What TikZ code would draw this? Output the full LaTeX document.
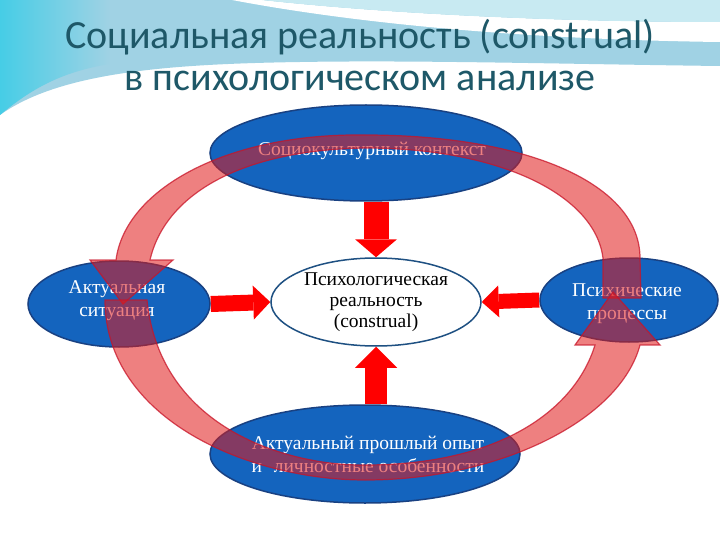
\documentclass[tikz,border=0pt]{standalone}
\usepackage{fontspec}
\setmainfont{Liberation Serif}
\newfontfamily\titlefont{Carlito}
\usetikzlibrary{shapes.geometric,arrows.meta}
\pgfdeclarelayer{bg}
\pgfsetlayers{bg,main}
\definecolor{ringred}{RGB}{225,25,25}
\definecolor{ringedge}{RGB}{200,20,40}
\definecolor{ellblue}{RGB}{20,100,190}
\definecolor{elledge}{RGB}{25,65,130}
\definecolor{centeredge}{RGB}{30,80,130}
\definecolor{titlecol}{RGB}{30,88,104}
\definecolor{skyA}{RGB}{160,210,228}
\definecolor{skyB}{RGB}{70,205,230}
\definecolor{skyC}{RGB}{200,234,242}
\begin{document}
\begin{tikzpicture}[x=1pt,y=-1pt,
  blueell/.style={ellipse, draw=elledge, line width=1.5pt, fill=ellblue, text=white,
    inner sep=0pt, align=center},
  whiteell/.style={ellipse, draw=centeredge, line width=1.5pt, fill=white, text=black,
    inner sep=0pt, align=center, font=\fontsize{19.5}{21}\selectfont},
  redarrow/.style={draw=red, line cap=butt},
  ringarrow/.style={fill=ringred, fill opacity=0.55, draw=ringedge, draw opacity=0.75, line width=1.2pt},
  ltext/.style={text=white, font=\fontsize{19.5}{23}\selectfont, align=center, inner sep=0pt},
  titletext/.style={text=titlecol, font=\titlefont\fontsize{40}{44}\selectfont, inner sep=0pt}]
\useasboundingbox (0,0) rectangle (720,540);
\begin{pgfonlayer}{bg}
\fill[white] (0,0) rectangle (720,540);
% top decoration
\fill[skyA] (0,0) -- (720,0) -- (720,66) .. controls (560,64) and (420,60) .. (300,62)
  .. controls (170,64) and (60,72) .. (0,115) -- cycle;
\shade[left color=skyB, right color=skyA] (0,0) -- (110,0) -- (110,64) .. controls (60,72) and (30,90) .. (0,115) -- cycle;
\fill[white] (232,0) .. controls (380,28) and (560,40) .. (720,42) -- (720,22)
  .. controls (560,22) and (390,14) .. (262,0) -- cycle;
\fill[skyC] (262,0) .. controls (390,14) and (560,22) .. (720,22) -- (720,0) -- cycle;
\end{pgfonlayer}
% title
\node[titletext] (t1) at (360,37) {Социальная реальность (construal)};
\node[titletext] (t2) at (360,81) {в психологическом анализе};
% ellipses
\node[blueell, minimum width=312pt, minimum height=96pt] (top) at (366,153) {};
\node[blueell, minimum width=182pt, minimum height=86pt] (left) at (119,304) {};
\node[blueell, minimum width=178pt, minimum height=84pt] (right) at (629,300) {};
\node[blueell, minimum width=310pt, minimum height=98pt] (bot) at (365,454) {};
\node[whiteell, minimum width=210pt, minimum height=88pt] (psy) at (376,302)
  {Психологическая\\реальность\\(construal)};
% straight arrows (behind ellipses)
\begin{pgfonlayer}{bg}
\draw[redarrow, line width=25pt, -{Triangle[length=18pt,width=42pt,line width=0pt]}]
  (top.south -| psy.north) -- (psy.north);
\draw[redarrow, line width=22pt, -{Triangle[length=21pt,width=42pt,line width=0pt]}]
  (bot.north -| psy.south) -- (psy.south);
\draw[redarrow, line width=16pt, -{Triangle[length=17pt,width=34pt,line width=0pt]}]
  (left.east) -- (psy.west);
\draw[redarrow, line width=15pt, -{Triangle[length=17pt,width=32pt,line width=0pt]}]
  (right.west) -- (psy.east);
\end{pgfonlayer}
% texts
\node[ltext] (toptxt) at (372,151) {Социокультурный контекст};
\node[ltext] (lefttxt) at (117,301) {Актуальная\\ситуация};
\node[ltext] (righttxt) at (627,304) {Психические\\процессы};
\node[ltext] (bottxt) at (368,454) {Актуальный прошлый опыт\\и\hspace{0.6em}личностные особенности};
% ring arrow A: from right ellipse over the top to left ellipse
\draw[ringarrow]
  (641,298) -- (640,258) .. controls (640,185) and (530,135) .. (365,135)
  .. controls (225,133) and (125,190) .. (116,260)
  -- (90,260) -- (123,304) -- (173,260) -- (150,260)
  .. controls (165,195) and (240,150) .. (365,148)
  .. controls (500,148) and (595,195) .. (603,258) -- (603,298) -- cycle;
% ring arrow B: from left ellipse under the bottom to right ellipse
\draw[ringarrow]
  (105,300) .. controls (105,420) and (250,480) .. (365,480)
  .. controls (500,480) and (620,420) .. (640,345)
  -- (660,345) -- (613,292) -- (575,345) -- (595,345)
  .. controls (575,410) and (500,465) .. (365,465)
  .. controls (290,466) and (160,430) .. (147,300) -- cycle;
\end{tikzpicture}
\end{document}
